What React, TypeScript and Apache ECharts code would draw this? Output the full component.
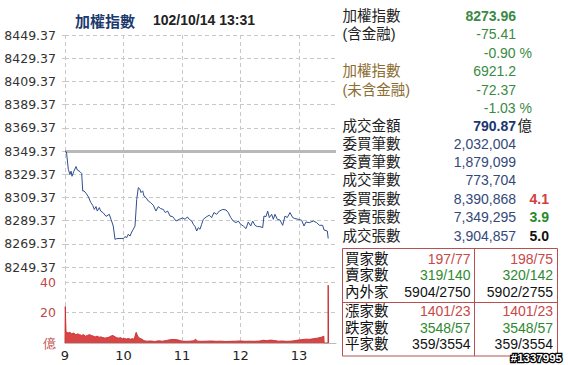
import React, { useEffect, useRef } from "react";
import * as echarts from "echarts";

const PREV_CLOSE = 8349.37;

// [minute since 9:00, index value]
const priceSeries: [number, number][] = [
  [0, 8349.37], [1.5, 8348.5], [3.4, 8333.6], [5.1, 8329], [6.2, 8332], [7.2, 8327.6], [9.2, 8332],
  [11.3, 8336], [12.6, 8333], [15.4, 8331.6], [17.1, 8330], [18.2, 8314.9], [19.5, 8315], [21.5, 8313],
  [23.9, 8310], [26.4, 8305], [28.4, 8302.6], [30.1, 8299], [31.8, 8301.5], [33.1, 8297.6], [35.2, 8300.6],
  [36.6, 8297.6], [39.3, 8296], [42.1, 8293], [45.4, 8294.8], [47.2, 8290.5], [49.5, 8284.7], [51.3, 8273.2],
  [53, 8273.8], [56.4, 8274], [59.8, 8273.8], [61.5, 8275.6], [63.3, 8274.7], [64.9, 8277.6], [66.7, 8276],
  [68.4, 8279.5], [70.1, 8281.9], [71.8, 8284.7], [73.6, 8307.7], [75.2, 8317.8], [76.9, 8316.4], [78, 8313.5],
  [79.7, 8315], [81, 8310.6], [83.1, 8309.2], [85.4, 8306.3], [87.9, 8304.9], [90.6, 8302.6], [93.3, 8297.6],
  [95.7, 8301.4], [98.2, 8299.7], [100.8, 8299], [102.9, 8296.3], [105.3, 8297.6], [107.7, 8293.3],
  [110.5, 8292.8], [113.9, 8289], [117.3, 8290.5], [120.7, 8291.7], [123.1, 8290.5], [125.5, 8292.5],
  [127.5, 8290.5], [130, 8289], [131.6, 8286.2], [133.4, 8284.2], [135.1, 8280.4], [136.7, 8283.3],
  [138.5, 8281.9], [140.2, 8286.2], [141.9, 8290.5], [145.4, 8292.8], [148, 8294], [150.5, 8292],
  [152.8, 8296.3], [155.6, 8294.8], [158.3, 8297.6], [161.8, 8299], [165.2, 8298.5], [167.5, 8296.3],
  [170, 8292], [172.6, 8289], [175.4, 8287.6], [177.8, 8289], [180.2, 8286.2], [182.9, 8284.7],
  [185.7, 8282.5], [188, 8288.2], [190.5, 8284.7], [192.5, 8289], [194.9, 8285.3], [197.3, 8284.2],
  [200, 8284.2], [202.8, 8283.3], [204.1, 8293.3], [206.2, 8292.8], [207.9, 8297.6], [209.6, 8292],
  [212, 8294.8], [213.7, 8290.5], [215.4, 8294.8], [217.8, 8290.5], [220.5, 8289.9], [223.3, 8285.3],
  [225.7, 8293.3], [228, 8292], [230.8, 8296.3], [233.6, 8292], [235.9, 8291.1], [239.3, 8290.5],
  [242.8, 8289.6], [245.2, 8284.7], [247.2, 8288.2], [250.6, 8287.6], [254.7, 8289], [258.2, 8287.6],
  [260.9, 8285.3], [264.3, 8285.3], [265.7, 8281.3], [269.1, 8280.4], [270, 8273.96],
];

// [minute since 9:00, turnover (億)]
const volumeSeries: [number, number][] = [
  [0, 0], [0.3, 24], [1, 7.5], [3, 6.5], [5, 7], [7, 6], [9, 6.5], [11, 5.5], [13, 6], [15, 5.5],
  [17, 5], [19, 5.5], [21, 4.5], [23, 5], [25, 5.5], [27, 5], [29, 4.5], [31, 4], [33, 4.5], [35, 3.8],
  [37, 4], [39, 3.5], [41, 3.2], [43, 3.5], [45, 3.8], [47, 4.5], [49, 5], [51, 4.2], [53, 3.5],
  [55, 3.2], [57, 3.5], [59, 2.8], [61, 3], [63, 2.6], [65, 3], [67, 2.5], [69, 2.8], [71, 2.5],
  [73, 7], [74, 5.5], [75, 4], [77, 3], [79, 2.5], [81, 1.5], [84, 1.2], [88, 1.3], [92, 1.0],
  [96, 1.4], [100, 1.2], [104, 1.6], [108, 2.2], [112, 2.3], [116, 2.0], [120, 1.2], [124, 1.1],
  [128, 1.2], [132, 1.4], [134, 2.5], [136, 1.2], [140, 1.1], [145, 1.2], [150, 1.3], [155, 1.1],
  [160, 1.2], [165, 1.0], [170, 1.1], [175, 1.2], [180, 1.3], [185, 1.1], [190, 1.2], [195, 1.1],
  [200, 1.3], [203, 1.8], [207, 1.5], [211, 1.9], [215, 1.6], [219, 1.2], [223, 1.3], [227, 1.1],
  [231, 1.2], [235, 1.4], [239, 1.9], [243, 2.2], [247, 2.5], [251, 2.4], [255, 2.8], [259, 3.2],
  [263, 3.8], [265.5, 4.5], [265.8, 0], [269.8, 0], [270, 38], [270.4, 0],
];

const hourLabels = ["9", "10", "11", "12", "13"];

const titleName = "加權指數";
const titleTime = "102/10/14 13:31";

const summaryLabels = [
  "加權指數", "(含金融)", "", "加權指數", "(未含金融)", "", "成交金額",
  "委買筆數", "委賣筆數", "成交筆數", "委買張數", "委賣張數", "成交張數",
];
const summaryValues = [
  "8273.96", "-75.41", "-0.90 %", "6921.2", "-72.37", "-1.03 %", "790.87",
  "2,032,004", "1,879,099", "773,704", "8,390,868", "7,349,295", "3,904,857",
];
const amountUnit = "億";
const ratioValues = ["4.1", "3.9", "5.0"];

const tableLabels = ["買家數", "賣家數", "內外家", "漲家數", "跌家數", "平家數"];
const tableLeft = ["197/77", "319/140", "5904/2750", "1401/23", "3548/57", "359/3554"];
const tableRight = ["198/75", "320/142", "5902/2755", "1401/23", "3548/57", "359/3554"];
const serialText = "#1337995";

const CJK_TITLE = '"Noto Sans CJK TC", "Noto Sans CJK SC", sans-serif';
const CJK = '"Liberation Sans", "Noto Sans CJK TC", "Noto Sans CJK SC", sans-serif';
const NUM = '"Liberation Sans", Arial, sans-serif';
const AXISF = '"DejaVu Sans", Verdana, sans-serif';

const GREEN = "#3a8a45";
const RED = "#c84848";
const BLUE = "#34497a";
const BROWN = "#8c6d31";

function txt(text: string, x: number, y: number, font: string, fill: string, align = "left", extra: any = {}) {
  return {
    type: "text",
    silent: true,
    style: {
      text, x, y, font, fill,
      align, textAlign: align,
      verticalAlign: "middle", textVerticalAlign: "middle",
      ...extra,
    },
  };
}

export default function App() {
  const ref = useRef<HTMLDivElement>(null);

  useEffect(() => {
    if (!ref.current) return;
    const chart = echarts.init(ref.current, undefined, { renderer: "svg" });

    const rowY = [15.7, 34.3, 52.7, 71, 89.5, 107.5, 126, 144, 162, 180.3, 199, 217.3, 235.7];
    const labelColors = ["#222", "#222", "#222", BROWN, BROWN, "#222", "#222", "#222", "#222", "#222", "#222", "#222", "#222"];
    const graphics: any[] = [];

    graphics.push(txt(titleName, 75, 20, `bold 15px ${CJK_TITLE}`, "#1c3a6e"));
    graphics.push(txt(titleTime, 153, 20, `bold 14px ${NUM}`, "#222"));

    summaryLabels.forEach((l, i) => {
      if (l) graphics.push(txt(l, 342.5, rowY[i], `14.5px ${CJK}`, labelColors[i]));
    });
    summaryValues.forEach((v, i) => {
      let font = `14px ${NUM}`;
      let fill = BLUE;
      let x = 516;
      if (i <= 5) fill = GREEN;
      if (i === 0) font = `bold 14px ${NUM}`;
      if (i === 2 || i === 5) x = 532;
      if (i === 6) { font = `bold 14px ${NUM}`; fill = "#1a3570"; }
      graphics.push(txt(v, x, rowY[i], font, fill, "right"));
    });
    graphics.push(txt(amountUnit, 517.5, rowY[6], `14.5px ${CJK}`, "#222"));
    const ratioColors = ["#d04040", "#2a8a2a", "#111"];
    ratioValues.forEach((v, i) => {
      graphics.push(txt(v, 529.5, rowY[10 + i], `bold 14px ${NUM}`, ratioColors[i]));
    });

    // table box
    const border = { stroke: "#b85050", lineWidth: 1 };
    graphics.push({ type: "rect", silent: true, shape: { x: 342.5, y: 248.5, width: 215, height: 107.5 }, style: { fill: "none", ...border } });
    graphics.push({ type: "line", silent: true, shape: { x1: 474.5, y1: 248.5, x2: 474.5, y2: 356 }, style: border });
    graphics.push({ type: "line", silent: true, shape: { x1: 342.5, y1: 302.5, x2: 557.5, y2: 302.5 }, style: border });
    const tableY = [258.5, 275.2, 291.9, 311, 327.5, 344];
    const tableColors = [RED, "#2f8a2f", "#111", RED, "#2f8a2f", "#111"];
    tableLabels.forEach((l, i) => {
      graphics.push(txt(l, 345, tableY[i], `14.5px ${CJK}`, "#111"));
      graphics.push(txt(tableLeft[i], 470.5, tableY[i], `14px ${NUM}`, tableColors[i], "right"));
      graphics.push(txt(tableRight[i], 553, tableY[i], `14px ${NUM}`, tableColors[i], "right"));
    });
    graphics.push(txt(serialText, 562, 358, `bold 11.5px ${NUM}`, "#fff", "right", { stroke: "#000", lineWidth: 2.5 }));

    const gridColor = "#c8c8c8";
    const dash = [4, 3];
    const vSplitColors = [gridColor, gridColor, gridColor, gridColor, gridColor, "rgba(0,0,0,0)"];

    chart.setOption({
      animation: false,
      backgroundColor: "#fff",
      grid: [
        { left: 65, top: 35, width: 271, height: 232 },
        { left: 65, top: 267, width: 271, height: 76 },
      ],
      xAxis: [
        {
          type: "value", gridIndex: 0, min: 0, max: 278, interval: 60,
          axisLine: { show: false }, axisTick: { show: false }, axisLabel: { show: false },
          splitLine: { show: true, lineStyle: { color: vSplitColors, type: dash, width: 1 } },
        },
        {
          type: "value", gridIndex: 1, min: 0, max: 278, interval: 60,
          axisLine: { show: true, lineStyle: { color: "#bbb" } }, axisTick: { show: false },
          axisLabel: {
            show: true, margin: 6, color: "#222", fontSize: 13, fontFamily: AXISF,
            formatter: (v: number) => (v % 60 === 0 ? hourLabels[v / 60] ?? "" : ""),
          },
          splitLine: { show: true, lineStyle: { color: vSplitColors, type: dash, width: 1 } },
        },
      ],
      yAxis: [
        {
          type: "value", gridIndex: 0, min: -100, max: 100, interval: 20,
          axisLine: { show: false },
          axisTick: { show: true, length: 3, lineStyle: { color: gridColor } },
          axisLabel: {
            margin: 9, color: "#333", fontSize: 12.5, fontFamily: AXISF,
            formatter: (v: number) => (v + PREV_CLOSE).toFixed(2),
          },
          splitLine: { show: true, lineStyle: { color: gridColor, type: dash, width: 1 } },
        },
        {
          type: "value", gridIndex: 1, min: 0, max: 50, interval: 20,
          axisLine: { show: false },
          axisTick: { show: false },
          axisLabel: {
            margin: 9, color: "#c04a4a", fontSize: 12.5, fontFamily: AXISF,
            formatter: (v: number) => (v === 0 ? amountUnit : v === 50 ? "" : String(v)),
          },
          splitLine: { show: true, lineStyle: { color: [gridColor, gridColor, gridColor, "rgba(0,0,0,0)"], type: dash, width: 1 } },
        },
      ],
      series: [
        {
          type: "line", xAxisIndex: 0, yAxisIndex: 0, symbol: "none", silent: true,
          data: priceSeries.map(([t, v]) => [t, +(v - PREV_CLOSE).toFixed(2)]),
          lineStyle: { color: "#2d4f8e", width: 1 },
          markLine: {
            silent: true, symbol: ["none", "none"], label: { show: false },
            lineStyle: { color: "#b9b9b9", width: 3, type: "solid" },
            data: [{ yAxis: 0 }],
            z: 1,
          },
          z: 3,
        },
        {
          type: "line", xAxisIndex: 1, yAxisIndex: 1, symbol: "none", silent: true,
          data: volumeSeries,
          lineStyle: { color: "#c83434", width: 1 },
          areaStyle: { color: "#d94444", opacity: 1 },
        },
      ],
      graphic: graphics,
    });

    return () => chart.dispose();
  }, []);

  return <div ref={ref} style={{ position: "fixed", left: 0, top: 0, width: 568, height: 365 }} />;
}
